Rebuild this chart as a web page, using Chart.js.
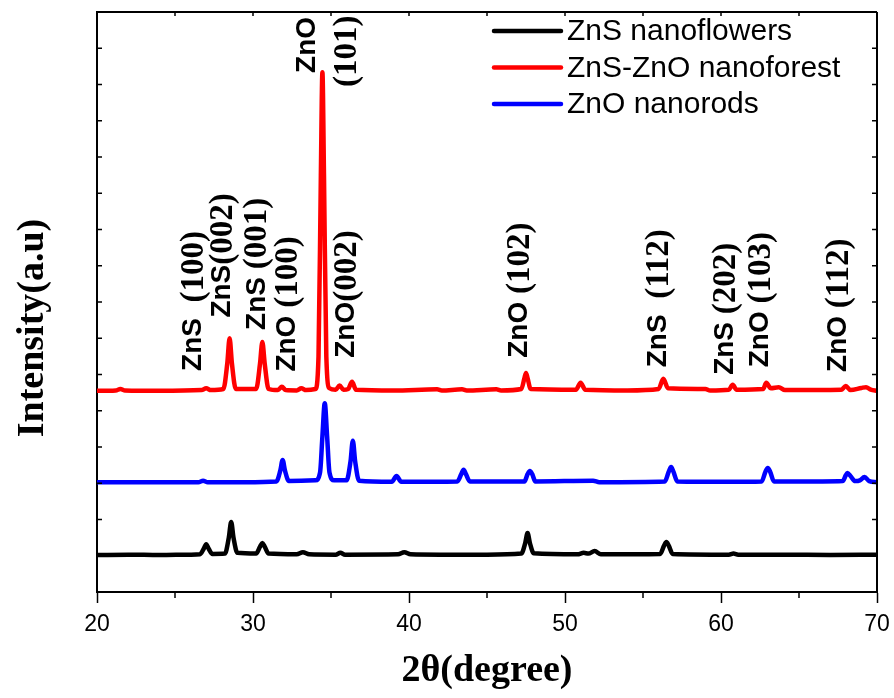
<!DOCTYPE html>
<html>
<head>
<meta charset="utf-8">
<script src="https://cdn.jsdelivr.net/npm/chart.js@4.4.0/dist/chart.umd.min.js"></script>
<style>
  html, body { margin: 0; padding: 0; background: #fff; }
  #wrap { width: 894px; height: 698px; }
</style>
</head>
<body>
<div id="wrap"><canvas id="xrd"></canvas></div>
<script>
// 2theta positions and intensities (offset, arbitrary units)
var xFlowers = [20, 22, 24, 26, 26.6, 26.85, 27.0, 27.15, 27.4, 28.2, 28.45, 28.6, 28.75, 29.0,
  30.2, 30.45, 30.6, 30.75, 31.0, 32.8, 33.2, 33.6, 35.3, 35.6, 35.9, 39.3, 39.7, 40.1, 42, 45,
  47.2, 47.45, 47.6, 47.75, 48.0, 50.8, 51.2, 51.5, 51.9, 52.3, 56.1, 56.35, 56.5, 56.65, 56.9,
  60.5, 60.8, 61.1, 64, 67, 70];
var yFlowers = [1.02, 1.03, 1.02, 1.03, 1.04, 1.2, 1.32, 1.2, 1.05, 1.06, 1.5, 1.93, 1.5, 1.08,
  1.06, 1.25, 1.35, 1.25, 1.06, 1.04, 1.1, 1.04, 1.03, 1.08, 1.03, 1.04, 1.1, 1.04, 1.03, 1.03,
  1.06, 1.35, 1.63, 1.35, 1.07, 1.04, 1.08, 1.06, 1.13, 1.04, 1.05, 1.28, 1.38, 1.28, 1.05,
  1.03, 1.06, 1.03, 1.03, 1.02, 1.03];

var xForest = [20, 21.2, 21.5, 21.8, 24, 26.7, 27.0, 27.3, 28.1, 28.35, 28.5, 28.65, 28.9,
  30.2, 30.45, 30.6, 30.75, 31.0, 31.6, 31.85, 32.1, 32.8, 33.1, 33.4, 34.0, 34.2, 34.35, 34.45,
  34.55, 34.7, 34.9, 35.3, 35.55, 35.8, 36.1, 36.35, 36.6, 39, 41.8, 42.1, 43.4, 43.7, 45.6, 45.9,
  47.2, 47.4, 47.5, 47.6, 47.8, 50.7, 51.0, 51.3, 54, 56.0, 56.3, 56.6, 59.0, 59.3, 60.5, 60.75,
  61.0, 62.7, 62.9, 63.2, 63.7, 64.1, 67.7, 68.0, 68.3, 69.0, 69.3, 69.6, 70];
var yForest = [5.55, 5.56, 5.6, 5.56, 5.55, 5.57, 5.62, 5.57, 5.6, 6.3, 7.0, 6.3, 5.6,
  5.6, 6.3, 6.9, 6.3, 5.6, 5.57, 5.66, 5.57, 5.56, 5.62, 5.57, 5.6, 6.5, 11.5, 14.34,
  11.5, 6.5, 5.62, 5.58, 5.7, 5.58, 5.6, 5.8, 5.58, 5.56, 5.59, 5.56, 5.59, 5.56, 5.59, 5.56,
  5.6, 5.9, 6.04, 5.9, 5.6, 5.58, 5.77, 5.58, 5.56, 5.6, 5.88, 5.62, 5.6, 5.56, 5.58, 5.72,
  5.58, 5.6, 5.77, 5.62, 5.65, 5.57, 5.58, 5.68, 5.57, 5.63, 5.65, 5.58, 5.55];

var xRods = [20, 23, 26.5, 26.8, 27.1, 29.5, 31.5, 31.75, 31.9, 32.05, 32.3, 34.0, 34.3, 34.45,
  34.6, 34.75, 34.9, 35.2, 36.0, 36.25, 36.4, 36.55, 36.8, 38.9, 39.2, 39.5, 43.1, 43.35, 43.5,
  43.65, 43.9, 47.4, 47.6, 47.75, 47.9, 48.1, 51.8, 52.2, 56.4, 56.65, 56.8, 56.95, 57.2, 60.5,
  62.6, 62.85, 63.0, 63.15, 63.4, 66.5, 67.8, 68.0, 68.1, 68.3, 68.6, 68.9, 69.2, 69.5, 70];
var yRods = [3.03, 3.03, 3.03, 3.07, 3.03, 3.03, 3.05, 3.35, 3.64, 3.35, 3.06, 3.08, 3.3, 4.3,
  5.21, 4.3, 3.3, 3.08, 3.08, 3.6, 4.17, 3.6, 3.07, 3.04, 3.2, 3.04, 3.05, 3.25, 3.37,
  3.25, 3.05, 3.05, 3.25, 3.34, 3.25, 3.05, 3.07, 3.03, 3.05, 3.32, 3.45, 3.32, 3.05, 3.04,
  3.05, 3.32, 3.42, 3.32, 3.05, 3.05, 3.06, 3.22, 3.28, 3.2, 3.06, 3.08, 3.17, 3.06, 3.03];

var xTickLabels = [20, 30, 40, 50, 60, 70];

// peak labels: text, 2theta of the label column, intensity where the text starts
var peakLabels = [
  { text: 'ZnS  (100)', x: 26.2, y: 6.1 },
  { text: 'ZnS(002)', x: 28.05, y: 7.57 },
  { text: 'ZnS (001)', x: 30.25, y: 7.23 },
  { text: 'ZnO (100)', x: 32.2, y: 6.08 },
  { text: 'ZnO', x: 33.5, y: 14.32 },
  { text: '(101)', x: 36.0, y: 13.93 },
  { text: 'ZnO(002)', x: 36.0, y: 6.46 },
  { text: 'ZnO (102)', x: 47.1, y: 6.46 },
  { text: 'ZnS  (112)', x: 56.0, y: 6.2 },
  { text: 'ZnS (202)', x: 60.3, y: 5.99 },
  { text: 'ZnO (103)', x: 62.5, y: 6.2 },
  { text: 'ZnO (112)', x: 67.5, y: 6.07 }
];

function pts(xs, ys) {
  return xs.map(function (x, i) { return { x: x, y: ys[i] }; });
}

var SANS = '"Liberation Sans", Arial, sans-serif';
var SERIF = '"Liberation Serif", "Times New Roman", serif';

// extra drawing: frame, inner ticks, peak labels, legend, y title
var decor = {
  id: 'decor',
  afterDatasetsDraw: function (chart) {
    var ctx = chart.ctx, a = chart.chartArea;
    var xs = chart.scales.x, ys = chart.scales.y;
    ctx.save();
    ctx.strokeStyle = '#000';
    ctx.lineWidth = 2;
    ctx.beginPath();
    ctx.moveTo(a.left, a.top); ctx.lineTo(a.right, a.top);
    ctx.moveTo(a.right, a.top); ctx.lineTo(a.right, a.bottom);
    ctx.stroke();

    ctx.lineWidth = 1.5;
    ctx.beginPath();
    for (var v = 1; v < 16; v++) {
      var py = ys.getPixelForValue(v);
      ctx.moveTo(a.left, py); ctx.lineTo(a.left + 5, py);
      ctx.moveTo(a.right, py); ctx.lineTo(a.right - 5, py);
    }
    for (var d = 25; d < 70; d += 10) {
      var px = xs.getPixelForValue(d);
      ctx.moveTo(px, a.bottom); ctx.lineTo(px, a.bottom + 6);
    }
    for (var t = 25; t < 70; t += 5) {
      var qx = xs.getPixelForValue(t);
      ctx.moveTo(qx, a.top); ctx.lineTo(qx, a.top + 4);
    }
    ctx.stroke();

    // rotated peak labels, sans part + serif Miller index
    ctx.fillStyle = '#000';
    ctx.textBaseline = 'middle';
    ctx.textAlign = 'left';
    peakLabels.forEach(function (l) {
      var k = l.text.indexOf('(');
      var head = k < 0 ? l.text : l.text.slice(0, k);
      var tail = k < 0 ? '' : l.text.slice(k);
      ctx.save();
      ctx.translate(xs.getPixelForValue(l.x), ys.getPixelForValue(l.y));
      ctx.rotate(-Math.PI / 2);
      ctx.font = 'bold 28px ' + SANS;
      ctx.fillText(head, 0, 0);
      var w = ctx.measureText(head).width;
      ctx.font = 'bold 33px ' + SERIF;
      ctx.fillText(tail, w, 1);
      ctx.restore();
    });

    // legend in the top right corner
    ctx.font = '30px ' + SANS;
    ctx.textBaseline = 'middle';
    chart.data.datasets.forEach(function (ds, r) {
      var y = a.top + 19 + r * 36.5;
      ctx.strokeStyle = ds.borderColor;
      ctx.lineWidth = 4.5;
      ctx.lineCap = 'round';
      ctx.beginPath();
      ctx.moveTo(a.right - 383, y); ctx.lineTo(a.right - 316, y);
      ctx.stroke();
      ctx.fillText(ds.label, a.right - 310, y + 1);
    });

    // y axis title
    ctx.save();
    ctx.translate(33, 328);
    ctx.rotate(-Math.PI / 2);
    ctx.font = 'bold 38px ' + SERIF;
    ctx.textAlign = 'center';
    ctx.fillText('Intensity(a.u)', 0, 0);
    ctx.restore();
    ctx.restore();
  }
};

var ctx = document.getElementById('xrd').getContext('2d');
var chart = new Chart(ctx, {
  type: 'line',
  data: {
    datasets: [{
      label: 'ZnS nanoflowers',
      data: pts(xFlowers, yFlowers),
      borderColor: '#000000'
    }, {
      label: 'ZnS-ZnO nanoforest',
      data: pts(xForest, yForest),
      borderColor: '#ff0000'
    }, {
      label: 'ZnO nanorods',
      data: pts(xRods, yRods),
      borderColor: '#0000ff'
    }]
  },
  options: {
    responsive: true,
    maintainAspectRatio: false,
    animation: false,
    layout: { padding: { top: 12, right: 17, left: 0, bottom: 0 } },
    elements: {
      point: { radius: 0 },
      line: { borderWidth: 4.5, cubicInterpolationMode: 'monotone', fill: false }
    },
    plugins: {
      legend: { display: false },
      tooltip: { enabled: false }
    },
    scales: {
      x: {
        type: 'linear',
        min: 20,
        max: 70,
        afterFit: function (s) {
          s.height = 106;
          s.paddingLeft = 0;
          s.paddingRight = 0;
        },
        afterBuildTicks: function (s) {
          s.ticks = xTickLabels.map(function (v) { return { value: v }; });
        },
        border: { color: '#000', width: 2 },
        grid: { drawOnChartArea: false, tickLength: 11, tickColor: '#000', tickWidth: 1.5 },
        ticks: {
          color: '#000',
          padding: 8,
          maxRotation: 0,
          font: { family: SANS, size: 23 }
        },
        title: {
          display: true,
          text: '2θ(degree)',
          color: '#000',
          padding: { top: 0, bottom: 4 },
          font: { family: SERIF, size: 38, weight: 'bold' }
        }
      },
      y: {
        min: 0,
        max: 16,
        afterFit: function (s) { s.width = 97; },
        border: { color: '#000', width: 2 },
        grid: { display: false },
        ticks: { display: false }
      }
    }
  },
  plugins: [decor]
});
</script>
</body>
</html>
